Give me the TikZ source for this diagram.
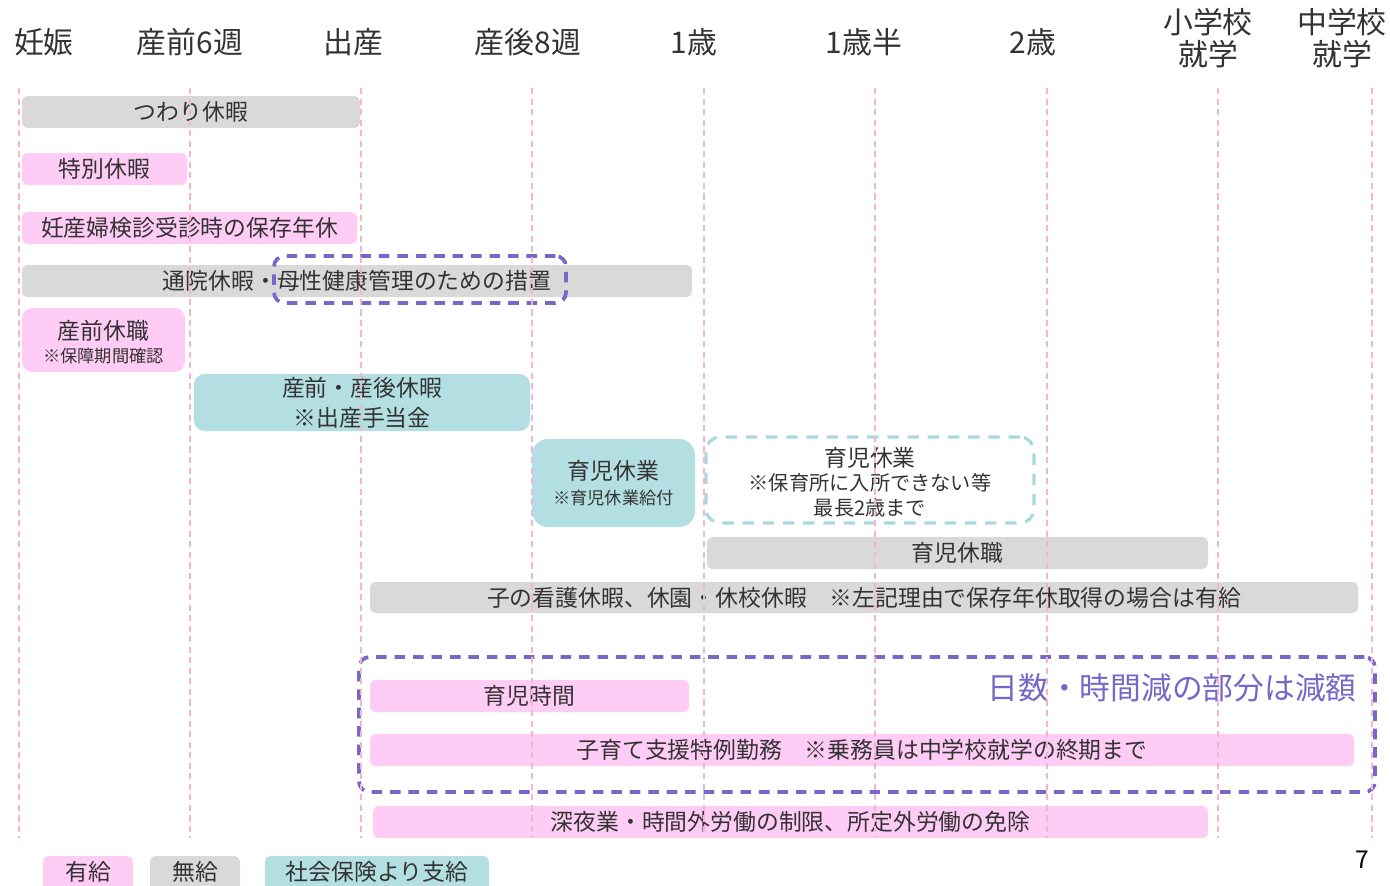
\documentclass[tikz,border=0pt]{standalone}
\usepackage{fontspec}
\setmainfont{Noto Sans CJK JP}
\usetikzlibrary{fit}

\definecolor{paidpink}{HTML}{FFCCF6}
\definecolor{unpaidgray}{HTML}{D9D9D9}
\definecolor{insuredteal}{HTML}{B3DEE2}
\definecolor{framepurple}{HTML}{7468C8}
\definecolor{frameteal}{HTML}{A9D9DD}
\definecolor{gridpink}{HTML}{F4B6CD}
\definecolor{inktext}{HTML}{333333}

\begin{document}
\begin{tikzpicture}[x=0.02cm, y=-0.02cm,
  head/.style={text=inktext, align=center, inner sep=0pt, font=\fontsize{17}{17}\selectfont},
  bar/.style={inner sep=0pt, rounded corners=3pt},
  barlabel/.style={inner sep=0pt, text=inktext, align=center, font=\fontsize{13}{15}\selectfont},
  paid/.style={bar, fill=paidpink},
  unpaid/.style={bar, fill=unpaidgray},
  insured/.style={bar, fill=insuredteal},
  frame/.style={draw=framepurple, line width=2.1pt, dash pattern=on 6pt off 4.5pt, rounded corners=6pt, inner sep=0pt},
  tealframe/.style={draw=frameteal, line width=1.8pt, dash pattern=on 6.5pt off 5pt, rounded corners=8pt, inner sep=0pt},
  grid/.style={gridpink, line width=0.6pt, dash pattern=on 3.5pt off 2.5pt}]
  \useasboundingbox (0,0) rectangle (1390,886);

  % time axis
  \node[head] (pregnancy) at (44,42) {妊娠};
  \node[head] (prenatal) at (190,42) {産前6週};
  \node[head] (birth) at (353,42) {出産};
  \node[head] (postnatal) at (528,42) {産後8週};
  \node[head] (age1) at (694,42) {1歳};
  \node[head] (age1half) at (864,42) {1歳半};
  \node[head] (age2) at (1033,42) {2歳};
  \node[head] (primary) at (1208,38) {小学校\\[1pt]就学};
  \node[head] (junior) at (1342,38) {中学校\\[1pt]就学};

  % leave bars
  \node[unpaid, fit={(22,96) (360,128)}, label={[barlabel]center:つわり休暇}] (morning) {};
  \node[paid, fit={(22,153) (187,185)}, label={[barlabel]center:特別休暇}] (special) {};
  \node[paid, fit={(22,212) (357,244)}, label={[barlabel]center:妊産婦検診受診時の保存年休}] (checkup) {};
  \node[unpaid, fit={(22,265) (692,297)}, label={[barlabel]center:通院休暇・母性健康管理のための措置}] (clinic) {};
  \node[frame, fit={(274,256) (566,303)}] (carebox) {};
  \node[paid, fit={(22,308) (185,372)}, rounded corners=6pt,
    label={[barlabel, yshift=-0.04cm]center:{産前休職\\[-2pt]{\fontsize{9.8}{11}\selectfont ※保障期間確認}}}] (prenatalsus) {};
  \node[insured, fit={(194,374) (530,431)}, rounded corners=6pt,
    label={[barlabel]center:{産前・産後休暇\\[2pt]※出産手当金}}] (maternity) {};
  \node[insured, fit={(532,439) (695,527)}, rounded corners=9pt,
    label={[barlabel]center:{育児休業\\[-1pt]{\fontsize{9.8}{11}\selectfont ※育児休業給付}}}] (childcare) {};
  \node[tealframe, fit={(706,437) (1034,523)},
    label={[barlabel, yshift=-0.04cm]center:{育児休業\\[-1pt]{\fontsize{11.5}{13}\selectfont ※保育所に入所できない等}\\[-1pt]{\fontsize{11.5}{13}\selectfont 最長2歳まで}}}] (extended) {};
  \node[unpaid, fit={(707,537) (1208,569)}, label={[barlabel]center:育児休職}] (childsus) {};
  \node[unpaid, fit={(370,582) (1358,613)},
    label={[barlabel]center:子の看護休暇、休園・休校休暇　※左記理由で保存年休取得の場合は有給}] (nursing) {};

  % reduced pay block
  \node[frame, fit={(359,657) (1375,792)}] (reducebox) {};
  \node[text=framepurple, anchor=east, inner sep=0pt, font=\fontsize{17.5}{20}\selectfont]
    (reducenote) at (1357,688) {日数・時間減の部分は減額};
  \node[paid, fit={(370,680) (689,712)}, label={[barlabel]center:育児時間}] (feeding) {};
  \node[paid, fit={(370,734) (1354,766)},
    label={[barlabel]center:子育て支援特例勤務　※乗務員は中学校就学の終期まで}] (support) {};
  \node[paid, fit={(373,806) (1208,838)},
    label={[barlabel]center:深夜業・時間外労働の制限、所定外労働の免除}] (night) {};

  % time grid
  \foreach \x in {19,190,361,532,704,875,1047,1218,1372}
    \draw[grid] (\x,88) -- (\x,838);

  % legend
  \node[paid, fit={(43,856) (133,892)}] (keypaid) {};
  \node[barlabel] at (88,872) {有給};
  \node[unpaid, fit={(150,856) (240,892)}] (keyunpaid) {};
  \node[barlabel] at (195,872) {無給};
  \node[insured, fit={(265,856) (489,892)}] (keyinsured) {};
  \node[barlabel] at (377,872) {社会保険より支給};

  \node[inner sep=0pt, font=\fontsize{14}{16}\selectfont] (pagenum) at (1362,860) {7};
\end{tikzpicture}
\end{document}
